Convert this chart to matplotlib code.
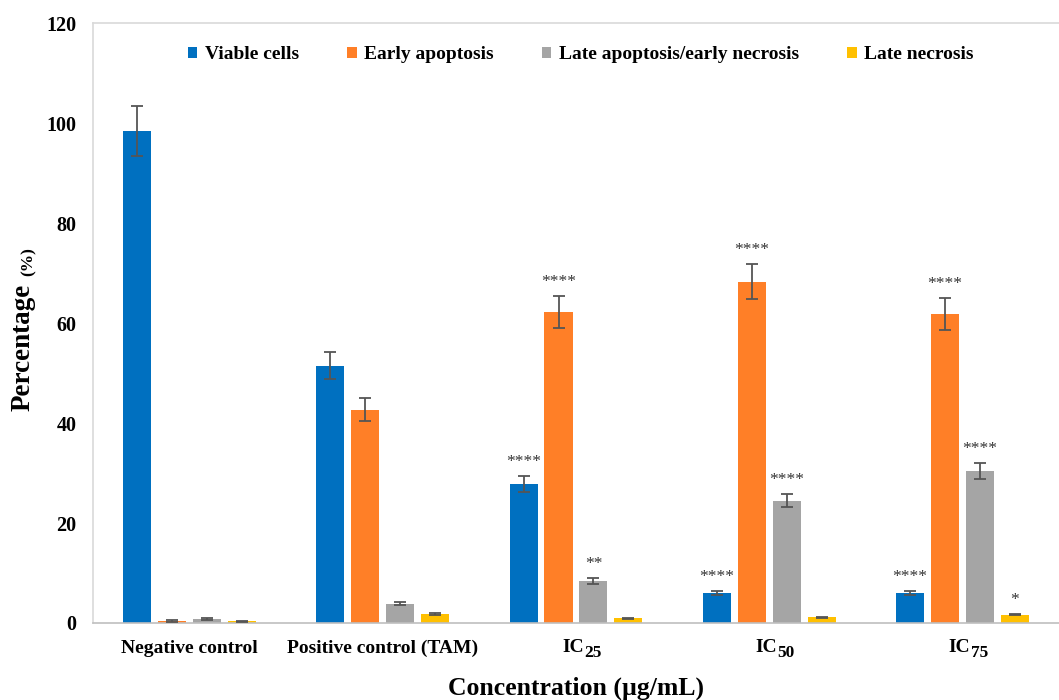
import matplotlib
matplotlib.use("Agg")
import matplotlib.pyplot as plt
import matplotlib.transforms as mtransforms
import numpy as np

plt.rcParams['font.family'] = ['Liberation Serif', 'DejaVu Serif']
plt.rcParams['font.weight'] = 'bold'

groups = ["Negative control", "Positive control (TAM)", "IC", "IC", "IC"]
group_subscripts = ["", "", "25", "50", "75"]
series = ["Viable cells", "Early apoptosis", "Late apoptosis/early necrosis", "Late necrosis"]
colors = ["#0070C0", "#FF7F27", "#A5A5A5", "#FFC000"]

viable = [98.5, 51.5, 27.8, 6.0, 6.0]
viable_err = [5.0, 2.7, 1.6, 0.4, 0.4]
early = [0.4, 42.7, 62.3, 68.3, 61.8]
early_err = [0.15, 2.3, 3.2, 3.5, 3.2]
late_early = [0.8, 3.9, 8.5, 24.5, 30.5]
late_early_err = [0.15, 0.3, 0.6, 1.3, 1.6]
late_nec = [0.4, 1.8, 1.0, 1.2, 1.7]
late_nec_err = [0.1, 0.15, 0.1, 0.1, 0.15]

stars_viable = ["", "", "****", "****", "****"]
stars_early = ["", "", "****", "****", "****"]
stars_late_early = ["", "", "**", "****", "****"]
stars_late_nec = ["", "", "", "", "*"]

values = [viable, early, late_early, late_nec]
errors = [viable_err, early_err, late_early_err, late_nec_err]
stars = [stars_viable, stars_early, stars_late_early, stars_late_nec]

fig = plt.figure(figsize=(10.59, 7.0), dpi=100)
ax = fig.add_axes([0.0878, 0.11, 0.9122, 0.857])

x = np.arange(len(groups))
slot = 0.181
width = 0.145
for i, (vals, errs, st, col, name) in enumerate(zip(values, errors, stars, colors, series)):
    pos = x + (i - 1.5) * slot
    ax.bar(pos, vals, width, color=col, label=name, zorder=2)
    ax.errorbar(pos, vals, yerr=errs, fmt='none', ecolor='#555555',
                elinewidth=1.3, capsize=4, capthick=1.3, zorder=3)
    for p, v, e, s in zip(pos, vals, errs, st):
        if s:
            ax.text(p, v + e + 1.2, s, ha='center', va='bottom',
                    fontsize=12.5, color='#333333', fontweight='normal')

ax.set_xlim(-0.5, 4.5)
ax.set_ylim(0, 120)
ax.set_yticks(np.arange(0, 121, 20))
ax.set_xticks(x)
ax.set_xticklabels([g if not s else "" for g, s in zip(groups, group_subscripts)],
                   fontsize=14, fontweight='bold')
ax.tick_params(axis='y', labelsize=14.5, length=0, pad=12)
ax.tick_params(axis='x', length=0, pad=12)
for lab in ax.get_yticklabels():
    lab.set_fontweight('bold')

# group labels with subscripted concentrations
blend = mtransforms.blended_transform_factory(ax.transData, ax.transAxes)
for xi, g, s in zip(x, groups, group_subscripts):
    if not s:
        continue
    t_main = mtransforms.offset_copy(blend, fig=fig, x=8 * 0.72, y=-29 * 0.72, units='points')
    ax.text(xi, 0, g, transform=t_main, ha='right', va='baseline',
            fontsize=14, fontweight='bold', clip_on=False)
    t_sub = mtransforms.offset_copy(blend, fig=fig, x=8.5 * 0.72, y=-34 * 0.72, units='points')
    ax.text(xi, 0, s, transform=t_sub, ha='left', va='baseline',
            fontsize=12.5, fontweight='bold', clip_on=False)

for side in ['left', 'top']:
    ax.spines[side].set_color('#D9D9D9')
    ax.spines[side].set_linewidth(1.2)
ax.spines['bottom'].set_color('#BFBFBF')
ax.spines['bottom'].set_linewidth(1.2)
ax.spines['right'].set_visible(False)

ax.set_xlabel("Concentration (µg/mL)", fontsize=18.5, fontweight='bold', labelpad=14)
fig.text(0.022, 0.504, "Percentage", rotation=90, fontsize=19.5, fontweight='bold',
         ha='center', va='center')
fig.text(0.027, 0.626, "(%)", rotation=90, fontsize=12.5, fontweight='bold',
         ha='center', va='center')

leg = ax.legend(loc='upper center', bbox_to_anchor=(0.505, 1.0), ncol=4, frameon=False,
                prop={'family': 'Liberation Serif', 'weight': 'bold', 'size': 14},
                handlelength=0.5, handleheight=0.5, handletextpad=0.4,
                columnspacing=2.45, borderaxespad=0.8)

fig.savefig("out.png", dpi=100)
